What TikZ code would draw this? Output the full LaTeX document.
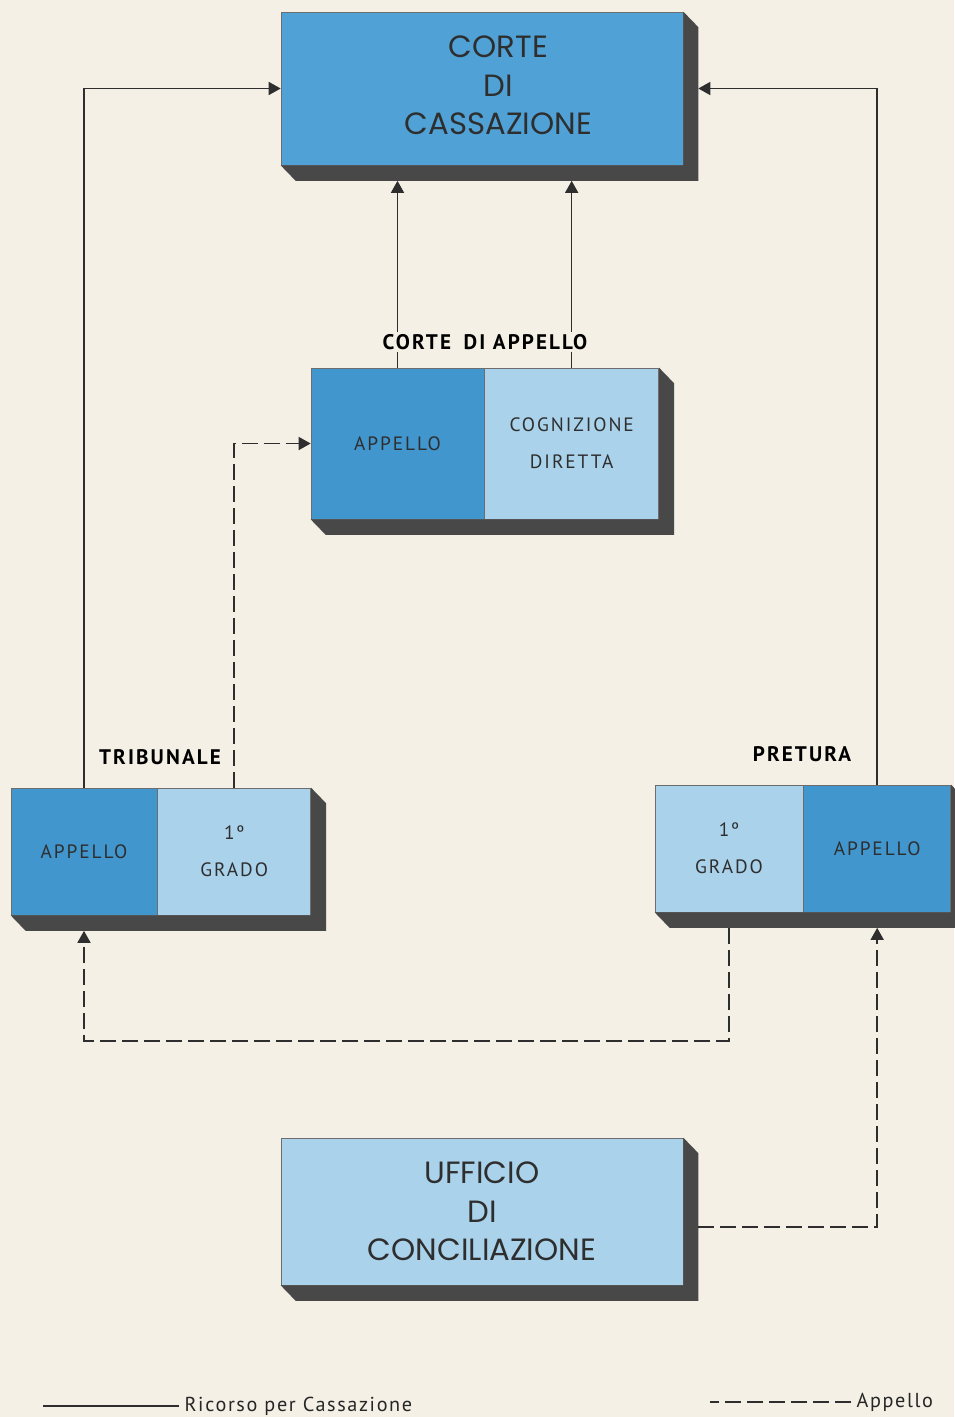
\documentclass[tikz,border=0pt]{standalone}
\usepackage{fontspec}
\usepackage{tikz}
\usetikzlibrary{arrows.meta,positioning,calc}
\newfontfamily\boxfont{Poppins}
\newfontfamily\labfont[LetterSpace=10]{PT Sans}
\newfontfamily\legfont[LetterSpace=8]{PT Sans}
\definecolor{papercol}{RGB}{244,240,230}
\definecolor{cassblue}{RGB}{80,162,214}
\definecolor{appblue}{RGB}{66,150,206}
\definecolor{lightblue}{RGB}{170,210,234}
\definecolor{shadowgrey}{RGB}{72,72,72}
\definecolor{inkgrey}{RGB}{46,46,46}
\def\shx{0.3cm}
\def\shy{0.31cm}
% extruded side of a box: #1 = upper right node, #2 = lower left node
\newcommand{\extrude}[2]{%
  \fill[shadowgrey] (#1.north east) -- ++(\shx,-\shy) -- ([shift={(\shx,-\shy)}]#1.south east)
    -- ([shift={(\shx,-\shy)}]#2.south west) -- (#2.south west) -- (#1.south east) -- cycle;}

\begin{document}
\begin{tikzpicture}[x=0.02cm, y=0.02cm,
  court/.style={rectangle, draw=inkgrey!70, line width=0.4pt, inner sep=0pt, align=center,
    text=inkgrey, font=\boxfont\fontsize{17.5}{22}\selectfont},
  half/.style={rectangle, draw=inkgrey!70, line width=0.4pt, inner sep=0pt, align=center,
    text=inkgrey, minimum height=2.54cm, font=\labfont\fontsize{11}{21}\selectfont},
  lab/.style={fill=papercol, inner sep=1.5pt, text=black, font=\labfont\bfseries\fontsize{12}{14}\selectfont},
  legtxt/.style={inner sep=3pt, text=black!85, font=\legfont\fontsize{11.5}{13}\selectfont},
  ricorso/.style={draw=inkgrey, line width=0.9pt, -{Triangle[length=0.24cm, width=0.26cm]}},
  appello/.style={ricorso, dash pattern=on 0.32cm off 0.12cm}]
\fill[papercol] (0,0) rectangle (954,-1417);
\useasboundingbox (0,0) rectangle (954,-1417);

% courts
\node[court, fill=cassblue, minimum width=8.04cm, minimum height=3.06cm] (cas) at (482,-88.5)
  {\hspace*{0.66cm}\begin{tabular}{@{}c@{}}CORTE\\DI\\CASSAZIONE\end{tabular}};
\node[half, fill=appblue, minimum width=3.46cm, minimum height=3.02cm] (caA) at (397.5,-443.5) {APPELLO};
\node[half, fill=lightblue, minimum width=3.48cm, minimum height=3.02cm, right=0pt of caA] (caC) {COGNIZIONE\\DIRETTA};
\node[half, fill=appblue, minimum width=2.92cm] (trA) at (84,-851.5) {APPELLO};
\node[half, fill=lightblue, minimum width=3.06cm, right=0pt of trA] (trG) {1º\\GRADO};
\node[half, fill=lightblue, minimum width=2.96cm] (prG) at (729,-848.5) {1º\\GRADO};
\node[half, fill=appblue, minimum width=2.94cm, right=0pt of prG] (prA) {APPELLO};
\node[court, fill=lightblue, minimum width=8.04cm, minimum height=2.94cm] (uff) at (482,-1211.5) {UFFICIO\\DI\\CONCILIAZIONE};

\extrude{cas}{cas}
\extrude{caC}{caA}
\extrude{trG}{trA}
\extrude{prA}{prG}
\extrude{uff}{uff}

% ricorso per cassazione
\draw[ricorso] (trA.north) |- (cas.west);
\draw[ricorso] (prA.north) |- ([xshift=\shx]cas.east);
\draw[ricorso] (caA.north) -- ([yshift=-\shy]caA.north |- cas.south);
\draw[ricorso] (caC.north) -- ([yshift=-\shy]caC.north |- cas.south);
% appello
\draw[appello] (trG.north) |- (caA.west);
\draw[appello] ([yshift=-\shy]prG.south) -- ++(0,-113) -| ([yshift=-\shy]trA.south);
\draw[appello] ([shift={(\shx,-\shy)}]uff.east) -| ([yshift=-\shy]prA.south);

\node[lab] (caLab) at (485,-342) {CORTE\hspace{0.6em}DI APPELLO};
\node[lab] (trLab) at (160,-757) {TRIBUNALE};
\node[lab] (prLab) at (802,-754) {PRETURA};

% legend
\node[legtxt, anchor=west] (legR) at (179,-1406) {Ricorso per Cassazione};
\node[legtxt, anchor=west] (legA) at (851,-1402) {Appello};
\draw[inkgrey, line width=0.9pt] (legR.west) -- ++(-136,0);
\draw[inkgrey, line width=0.9pt, dash pattern=on 0.32cm off 0.12cm] (legA.west) -- ++(-141,0);
\end{tikzpicture}
\end{document}
